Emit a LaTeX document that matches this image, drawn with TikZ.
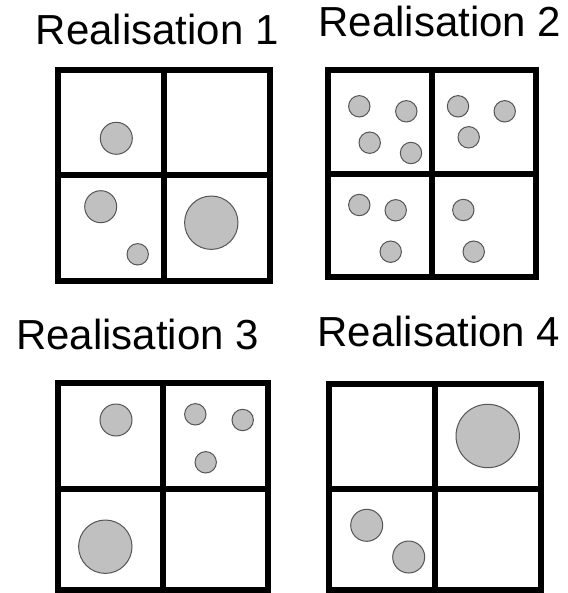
\documentclass[tikz,border=0pt]{standalone}
\usepackage{fontspec}
\setmainfont{Liberation Sans}
\definecolor{ballfill}{HTML}{C0C0C0}
\definecolor{balledge}{HTML}{555555}
\tikzset{
  frame/.style={line width=6pt, line join=miter, line cap=rect},
  ball/.style={fill=ballfill, draw=balledge, line width=1pt},
  title/.style={anchor=base, inner sep=0pt, font=\fontsize{42}{50}\selectfont}
}
\newcommand{\gridbox}[6]{%
  \draw[frame] (#1,#2) rectangle (#5,#6);
  \draw[frame] (#3,#2) -- (#3,#6);
  \draw[frame] (#1,#4) -- (#5,#4);
}
\begin{document}
\begin{tikzpicture}[x=1pt,y=-1pt]
\useasboundingbox[fill=white] (0,0) rectangle (567,593);
% titles
\node[title] (t1) at (157.3,44.5) {Realisation 1};
\node[title] (t2) at (440,36.7) {Realisation 2};
\node[title] (t3) at (137.5,349.5) {Realisation 3};
\node[title] (t4) at (439,346) {Realisation 4};
% grid 1
\gridbox{58.3}{70.5}{164}{175.5}{269.7}{281}
\draw[ball] (116.3,138.3) circle (16);
\draw[ball] (100.7,206.7) circle (16);
\draw[ball] (137.7,254.3) circle (10.7);
\draw[ball] (211.3,222.7) circle (26.7);
% grid 2
\gridbox{328.3}{70.5}{432.2}{174}{536.3}{277}
\draw[ball] (359.3,106.3) circle (10.7);
\draw[ball] (406.3,111.3) circle (10.7);
\draw[ball] (369.7,142.7) circle (10.7);
\draw[ball] (411,153) circle (10.7);
\draw[ball] (458,106.3) circle (10.7);
\draw[ball] (504.7,111.3) circle (10.7);
\draw[ball] (468.7,137.3) circle (10.7);
\draw[ball] (359.3,205) circle (10.7);
\draw[ball] (395.7,210.3) circle (10.7);
\draw[ball] (390.7,251.7) circle (10.7);
\draw[ball] (463.3,210) circle (10.7);
\draw[ball] (473.7,251.7) circle (10.7);
% grid 3
\gridbox{58.3}{383}{163}{488.7}{268.3}{590}
\draw[ball] (116,420) circle (16);
\draw[ball] (195.3,414.3) circle (10.7);
\draw[ball] (242.7,420) circle (10.7);
\draw[ball] (205.7,462.3) circle (10.7);
\draw[ball] (105.3,546.7) circle (26.7);
% grid 4
\gridbox{329.3}{384}{435.3}{488.7}{540.5}{590}
\draw[ball] (487.7,436) circle (31.7);
\draw[ball] (366.7,525.3) circle (16);
\draw[ball] (408.7,557) circle (16);
\end{tikzpicture}
\end{document}
